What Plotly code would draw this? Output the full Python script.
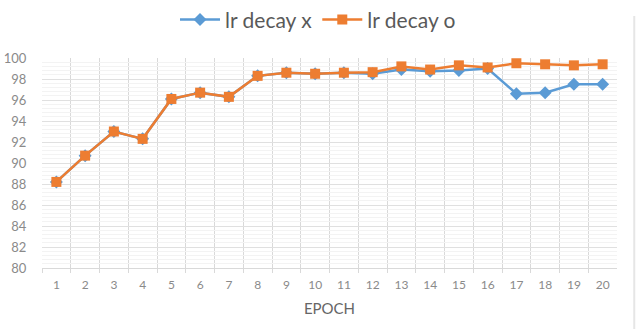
import plotly.graph_objects as go

epochs = list(range(1, 21))
tick_labels = [str(e) for e in epochs]
lr_decay_x = [88.2, 90.7, 93.0, 92.3, 96.1, 96.7, 96.3, 98.3, 98.6, 98.5,
              98.6, 98.5, 98.9, 98.75, 98.8, 99.0, 96.6, 96.7, 97.5, 97.5]
lr_decay_o = [88.2, 90.7, 93.0, 92.3, 96.1, 96.7, 96.3, 98.3, 98.6, 98.5,
              98.6, 98.65, 99.2, 98.9, 99.3, 99.1, 99.5, 99.4, 99.3, 99.4]

BLUE = "#5B9BD5"
ORANGE = "#ED7D31"
GRAY = "#8a8a8a"
FONT = "Lato"

fig = go.Figure()
fig.add_trace(go.Scatter(
    x=epochs, y=lr_decay_x, name="lr decay x", mode="lines+markers",
    line=dict(color=BLUE, width=2.5),
    marker=dict(symbol="diamond", size=10, color=BLUE),
))
fig.add_trace(go.Scatter(
    x=epochs, y=lr_decay_o, name="lr decay o", mode="lines+markers",
    line=dict(color=ORANGE, width=2.5),
    marker=dict(symbol="square", size=10, color=ORANGE),
))

fig.update_layout(
    width=637, height=329,
    margin=dict(l=42, r=20, t=58, b=61, autoexpand=False),
    paper_bgcolor="white", plot_bgcolor="white",
    font=dict(family=FONT, color=GRAY),
    showlegend=True,
    legend=dict(
        orientation="h", x=0.48, xanchor="center", y=0.94, yanchor="middle",
        yref="container", font=dict(size=21, color="#595959", family=FONT),
        itemwidth=40, traceorder="normal",
    ),
    xaxis=dict(
        range=[0.5, 20.5], tickmode="array", tickvals=epochs, ticktext=tick_labels,
        showgrid=False, zeroline=False, showline=True, linecolor="#d9d9d9",
        ticks="outside", ticklen=6, tickcolor="rgba(0,0,0,0)",
        tickfont=dict(size=12, color=GRAY, family=FONT),
        title=dict(text="EPOCH", font=dict(size=15, color="#666666", family=FONT), standoff=12),
        minor=dict(tickmode="array", tickvals=[e + 0.5 for e in range(0, 20)],
                   showgrid=True, gridcolor="#d9d9d9", gridwidth=1,
                   ticks="outside", ticklen=4, tickcolor="#d9d9d9"),
        fixedrange=True,
    ),
    yaxis=dict(
        range=[80, 100], tick0=80, dtick=2,
        showgrid=True, gridcolor="#e0e0e0", zeroline=False, showline=False,
        ticks="outside", ticklen=12, tickcolor="rgba(0,0,0,0)",
        tickfont=dict(size=13, color=GRAY, family=FONT),
        minor=dict(dtick=0.4, showgrid=True, gridcolor="#f3f3f3", gridwidth=1),
        fixedrange=True,
    ),
)

fig.add_shape(type="line", xref="paper", yref="paper", x0=1.03, x1=1.03, y0=-0.3, y1=1.2,
              line=dict(color="#e6e6e6", width=2))

fig.write_html("out.html")
